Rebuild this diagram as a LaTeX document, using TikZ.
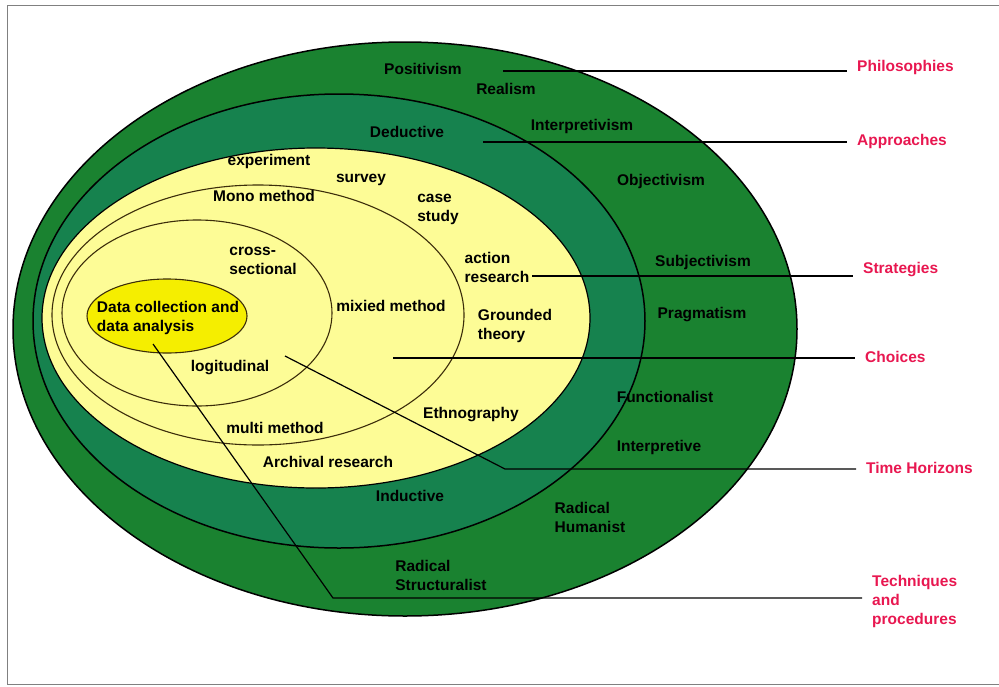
\documentclass[tikz,border=0pt]{standalone}
\usepackage{fontspec}
\setmainfont{Liberation Sans}
\definecolor{onionout}{RGB}{26,130,48}
\definecolor{onionmid}{RGB}{22,130,78}
\definecolor{onionyel}{RGB}{253,252,150}
\definecolor{datayel}{RGB}{245,238,0}
\definecolor{layerred}{RGB}{232,23,80}
\definecolor{ringline}{RGB}{60,45,10}
\begin{document}
\begin{tikzpicture}[x=1pt,y=-1pt,
  lbl/.style={font=\fontsize{15.5}{19}\selectfont\bfseries, inner sep=1pt, align=left},
  layer/.style={lbl, text=layerred, anchor=west, inner xsep=10pt, inner ysep=0pt},
  ring/.style={draw=ringline, line width=1.1pt},
  lead/.style={draw, line width=1.2pt}]
\useasboundingbox (0,0) rectangle (999,686);
\draw[gray, line width=1pt] (7,5) rectangle (1010,684);

\path[draw, line width=1.5pt, fill=onionout] (405,329) ellipse [x radius=392, y radius=287];
\path[draw, line width=1.5pt, fill=onionmid] (339,321) ellipse [x radius=306, y radius=227];
\path[draw, line width=1.2pt, fill=onionyel] (316,318) ellipse [x radius=274, y radius=170];
\path[ring] (258,315) ellipse [x radius=206, y radius=130];
\path[ring] (197,313) ellipse [x radius=135, y radius=93];
\path[ring, fill=datayel] (167,316) ellipse [x radius=80, y radius=37];
\node[lbl] (data) at (168,318) {Data collection and\\data analysis};

\node[layer] (philo) at (847,67) {Philosophies};
\node[layer] (appr) at (847,141) {Approaches};
\node[layer] (strat) at (853,270) {Strategies};
\node[layer] (choice) at (855,357) {Choices};
\node[layer] (horizon) at (856,468) {Time Horizons};
\node[layer] (tech) at (862,601) {Techniques\\and\\procedures};

\coordinate (philostart) at (503,71);
\coordinate (apprstart) at (483,142);
\coordinate (stratstart) at (532,276);
\coordinate (choicestart) at (393,358);
\coordinate (horizonstart) at (285,356);
\coordinate (horizonbend) at (505,469);
\coordinate (techstart) at (153,344);
\coordinate (techbend) at (333,598);

\path[lead] (philostart) -- (philostart -| philo.west);
\path[lead] (apprstart) -- (apprstart -| appr.west);
\path[lead] (stratstart) -- (stratstart -| strat.west);
\path[lead] (choicestart) -- (choicestart -| choice.west);
\path[lead] (horizonstart) -- (horizonbend) -- (horizonbend -| horizon.west);
\path[lead] (techstart) -- (techbend) -- (techbend -| tech.west);

\node[lbl] (positivism) at (423,69) {Positivism};
\node[lbl] (realism) at (506,89) {Realism};
\node[lbl] (deductive) at (407,132) {Deductive};
\node[lbl] (interpretivism) at (582,126) {Interpretivism};
\node[lbl] (objectivism) at (661,181) {Objectivism};
\node[lbl] (subjectivism) at (703,262) {Subjectivism};
\node[lbl] (pragmatism) at (702,315) {Pragmatism};
\node[lbl] (functionalist) at (665,397) {Functionalist};
\node[lbl] (interpretive) at (659,447) {Interpretive};
\node[lbl] (inductive) at (410,496) {Inductive};
\node[lbl] (humanist) at (590,517) {Radical\\Humanist};
\node[lbl] (structuralist) at (441,575) {Radical\\Structuralist};

\node[lbl] (experiment) at (269,161) {experiment};
\node[lbl] (survey) at (361,180) {survey};
\node[lbl] (mono) at (264,196) {Mono method};
\node[lbl] (casestudy) at (438,209) {case\\study};
\node[lbl] (cross) at (263,261) {cross-\\sectional};
\node[lbl] (action) at (497,267) {action\\research};
\node[lbl] (mixed) at (391,306) {mixied method};
\node[lbl] (grounded) at (515,326) {Grounded\\theory};
\node[lbl] (longitudinal) at (230,368) {logitudinal};
\node[lbl] (ethno) at (471,415) {Ethnography};
\node[lbl] (multi) at (275,428) {multi method};
\node[lbl] (archival) at (328,462) {Archival research};
\end{tikzpicture}
\end{document}
